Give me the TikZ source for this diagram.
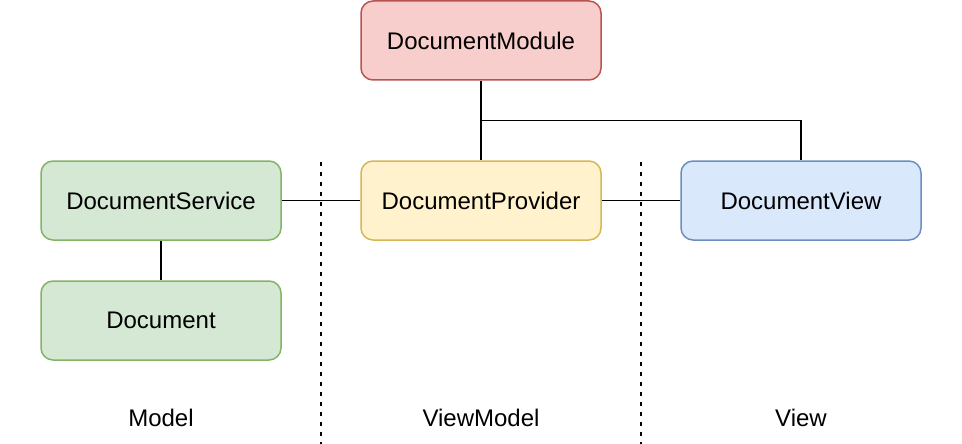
\documentclass[tikz,border=0pt]{standalone}
\usepackage{fontspec}
\setmainfont{Liberation Sans}
\definecolor{redfill}{HTML}{F8CECC}
\definecolor{redline}{HTML}{B85450}
\definecolor{greenfill}{HTML}{D5E8D4}
\definecolor{greenline}{HTML}{82B366}
\definecolor{yellowfill}{HTML}{FFF2CC}
\definecolor{yellowline}{HTML}{D6B656}
\definecolor{bluefill}{HTML}{DAE8FC}
\definecolor{blueline}{HTML}{6C8EBF}
\tikzset{
  box/.style={rounded corners=12pt, minimum width=240pt, minimum height=79pt, line width=1.5pt, inner sep=0pt, font=\fontsize{24pt}{28pt}\selectfont},
  redbox/.style={box, draw=redline, fill=redfill},
  greenbox/.style={box, draw=greenline, fill=greenfill},
  yellowbox/.style={box, draw=yellowline, fill=yellowfill},
  bluebox/.style={box, draw=blueline, fill=bluefill},
  conn/.style={line width=1.6pt, black},
  sep/.style={line width=1.6pt, black, dash pattern=on 4pt off 6pt},
  lbl/.style={font=\fontsize{24pt}{28pt}\selectfont}
}
\begin{document}
\begin{tikzpicture}[x=1pt,y=-1pt]
\useasboundingbox (0,0) rectangle (962,444);
\node[redbox] (module) at (481,40.5) {DocumentModule};
\node[greenbox] (service) at (161,200.5) {DocumentService};
\node[greenbox] (document) at (161,320.5) {Document};
\node[yellowbox] (provider) at (481,200.5) {DocumentProvider};
\node[bluebox] (view) at (801,200.5) {DocumentView};
\coordinate (s1a) at (321,162);
\coordinate (s1b) at (321,444);
\coordinate (s2a) at (641,162);
\coordinate (s2b) at (641,444);
\draw[sep] (s1a) -- (s1b);
\draw[sep] (s2a) -- (s2b);
\coordinate (branch) at (481,120.5);
\draw[conn] (module.south) -- (provider.north);
\draw[conn] (branch) -| (view.north);
\draw[conn] (service.east) -- (provider.west);
\draw[conn] (provider.east) -- (view.west);
\draw[conn] (service.south) -- (document.north);
\node[lbl] (lmodel) at (161,418) {Model};
\node[lbl] (lvm) at (481,418) {ViewModel};
\node[lbl] (lview) at (801,418) {View};
\end{tikzpicture}
\end{document}
